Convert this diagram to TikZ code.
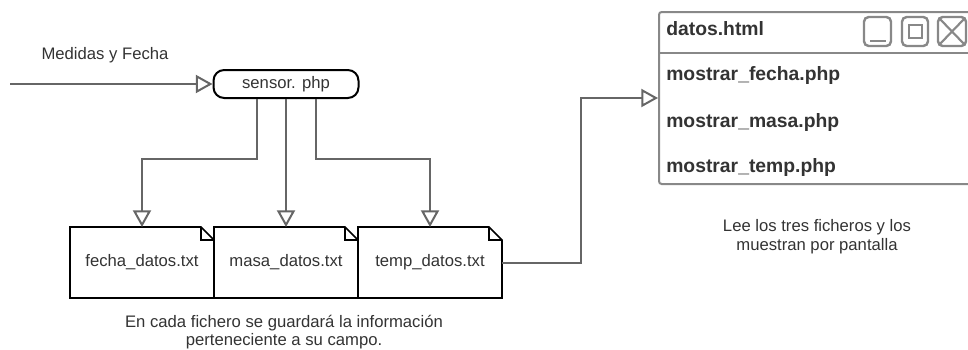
\documentclass[tikz,border=0pt]{standalone}
\usepackage{fontspec}
\setmainfont{Liberation Sans}
\usetikzlibrary{positioning,arrows.meta}
\definecolor{linea}{RGB}{102,102,102}
\definecolor{marco}{RGB}{136,136,136}
\definecolor{texto}{RGB}{51,51,51}
\newcommand{\normaltxt}{\fontsize{12.5}{14}\selectfont}
\newcommand{\negritatxt}{\fontsize{14.5}{17}\selectfont\bfseries}
\tikzset{
  conn/.style={draw=linea, line width=1.5pt, -{Triangle[open,length=12.5pt,width=13.5pt,fill=white]}},
  sensorbox/.style={draw, line width=1.5pt, rounded corners=8pt, minimum width=108.75pt, minimum height=21pt, font=\normaltxt, text=texto},
  fichero/.style={minimum width=108pt, minimum height=53.25pt, inner sep=0pt, outer sep=0pt, font=\normaltxt, text=texto},
  ventana/.style={draw=marco, line width=1.5pt, rounded corners=2pt, minimum width=237pt, minimum height=129pt, inner sep=0pt},
  fila/.style={anchor=west, inner sep=0pt, font=\negritatxt, text=texto},
  nota/.style={align=center, font=\normaltxt, text=texto}
}
\newcommand{\drawfichero}[1]{
  \draw[line width=1.3pt] (#1.north west)--([xshift=-9.75pt]#1.north east)--([yshift=-9.75pt]#1.north east)--(#1.south east)--(#1.south west)--cycle;
  \draw[line width=1.3pt] ([xshift=-9.75pt]#1.north east)--++(0,13)--++(13,0);
}
\newcommand{\boton}[2]{\draw[marco, line width=1.8pt, rounded corners=3.5pt] (#1,17) rectangle (#2,46);}

\begin{document}
\begin{tikzpicture}[x=0.75pt,y=-0.75pt]
\useasboundingbox (0,0) rectangle (968,350);
\clip (0,0) rectangle (968,350);
% entrada
\node[sensorbox] (sensor) at (286,84) {sensor. php};
\node[nota] (medidas) at (105,55) {Medidas y Fecha};
\coordinate (entrada) at (10,84);
\draw[conn] (entrada) -- (sensor.west);
% ficheros
\node[fichero] (fecha) at (142,262.5) {fecha\_datos.txt};
\node[fichero, right=0pt of fecha] (masa) {masa\_datos.txt};
\node[fichero, right=0pt of masa] (temp) {temp\_datos.txt};
\foreach \f in {fecha,masa,temp}{\drawfichero{\f}}
\draw[conn] ([xshift=-21.75pt]sensor.south) -- ++(0,60) -| (fecha.north);
\draw[conn] (sensor.south -| masa.north) -- (masa.north);
\draw[conn] ([xshift=22.5pt]sensor.south) -- ++(0,60) -| (temp.north);
\node[nota] (nota1) at (284,332) {En cada fichero se guardará la información\\perteneciente a su campo.};
% ventana
\node[ventana] (win) at (817,98) {};
\draw[marco, line width=1.5pt] (659,53) -- (975,53);
\boton{864}{891}\boton{902}{928}\boton{938}{966}
\draw[marco, line width=1.8pt] (870,41) -- (886,41);
\draw[marco, line width=1.8pt] (909,25) rectangle (922,38);
\draw[marco, line width=1.6pt] (939,18) -- (965,45) (939,45) -- (965,18);
\node[fila] (titulo) at (666,29) {datos.html};
\node[fila] (fila1) at (666,75) {mostrar\_fecha.php};
\node[fila] (fila2) at (666,122) {mostrar\_masa.php};
\node[fila] (fila3) at (666,167) {mostrar\_temp.php};
\draw[conn] (temp.east) -- ++(79,0) |- (win.west);
\node[nota] (nota2) at (817,237) {Lee los tres ficheros y los\\muestran por pantalla};
\end{tikzpicture}
\end{document}
